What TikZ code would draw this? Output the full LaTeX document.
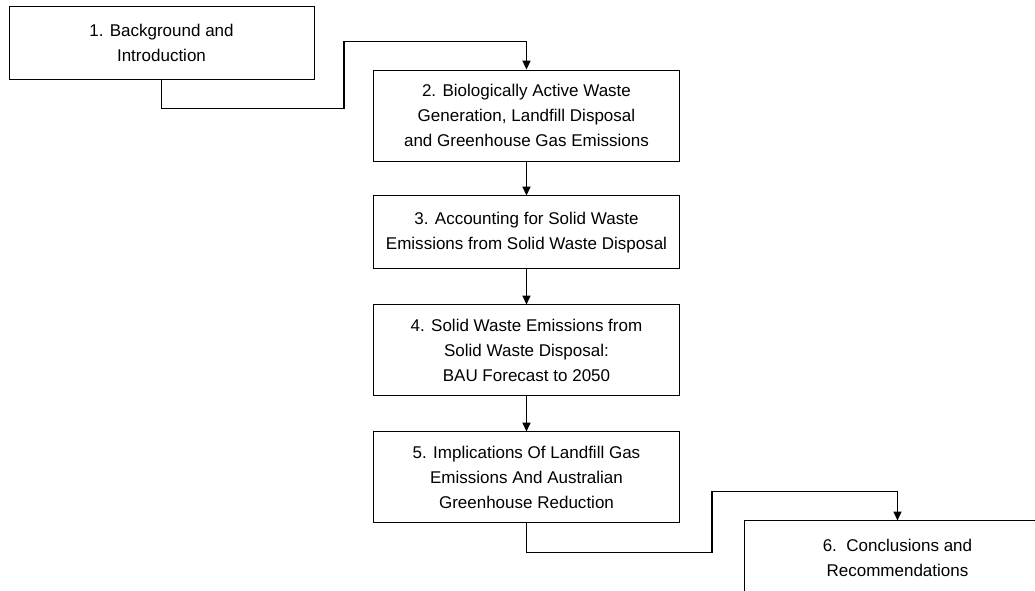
\documentclass[tikz,border=0pt]{standalone}
\usepackage{fontspec}
\setmainfont{Liberation Sans}
\usetikzlibrary{positioning,arrows.meta,calc}

\begin{document}
\begin{tikzpicture}[
  font=\fontsize{12.1pt}{17.8pt}\selectfont,>={Triangle[length=2.2mm,width=2mm]},
  sec/.style={draw,line width=0.7pt,minimum width=76.25mm,minimum height=18.25mm,align=center,inner sep=1mm},
  tall/.style={sec,minimum height=22.75mm},
  link/.style={->,line width=0.9pt},
]
\clip (0,0) rectangle (258.75mm,-147.5mm);
\node[sec] (s1) at (40.375mm,-10.625mm) {1. Background and\\Introduction};
\node[tall,below right=16mm and 14.75mm of s1.north east] (s2) {2. Biologically Active Waste\\Generation, Landfill Disposal\\and Greenhouse Gas Emissions};
\node[sec,below=8.5mm of s2] (s3) {3. Accounting for Solid Waste\\Emissions from Solid Waste Disposal};
\node[tall,below=8.75mm of s3] (s4) {4. Solid Waste Emissions from\\Solid Waste Disposal:\\BAU Forecast to 2050};
\node[tall,below=8.75mm of s4] (s5) {5. Implications Of Landfill Gas\\Emissions And Australian\\Greenhouse Reduction};
\node[sec,below right=-0.75mm and 16.25mm of s5.south east] (s6) {6.\ \ Conclusions and\\Recommendations};

% stepped links between the offset boxes
\coordinate (j1) at ($(s1.south)+(0,-7.25mm)$);
\coordinate (k1) at ($(s2.north)+(0,7mm)$);
\coordinate (m1) at ($(s1.east)!.5!(s2.west)$);
\draw[link] (s1.south) -- (j1) -| (m1) |- (k1) -- (s2.north);
\coordinate (j5) at ($(s5.south)+(0,-7.25mm)$);
\coordinate (k5) at ($(s6.north)+(0,7.25mm)$);
\coordinate (m5) at ($(s5.east)!.5!(s6.west)$);
\draw[link] (s5.south) -- (j5) -| (m5) |- (k5) -- (s6.north);

\draw[link] (s2) -- (s3);
\draw[link] (s3) -- (s4);
\draw[link] (s4) -- (s5);
\end{tikzpicture}
\end{document}
